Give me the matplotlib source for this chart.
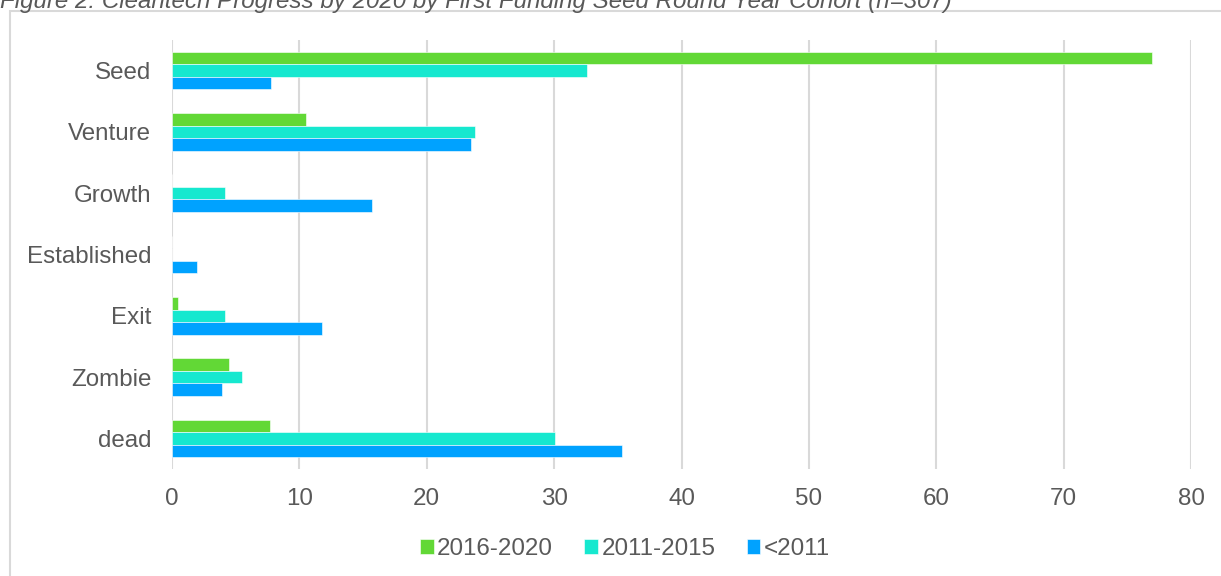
import matplotlib
matplotlib.use("Agg")
import matplotlib.pyplot as plt
from matplotlib.patches import Rectangle
import numpy as np

plt.rcParams['font.family'] = ['Liberation Sans', 'DejaVu Sans']

# data
stages = ["Seed", "Venture", "Growth", "Established", "Exit", "Zombie", "dead"]
cohorts = ["2016-2020", "2011-2015", "<2011"]
v_2016_2020 = [76.9, 10.5, 0.0, 0.0, 0.45, 4.5, 7.7]
v_2011_2015 = [32.6, 23.8, 4.2, 0.0, 4.2, 5.5, 30.1]
v_pre_2011 = [7.8, 23.5, 15.7, 2.0, 11.8, 3.9, 35.3]
colors = ["#62d836", "#16e8cf", "#00a2ff"]
x_ticks = [0, 10, 20, 30, 40, 50, 60, 70, 80]

W, H = 1221, 576
fs = 17.4
fig = plt.figure(figsize=(W / 100, H / 100), dpi=100)

# light frame around the chart (runs off right/bottom edges)
fig.patches.append(Rectangle((10 / W, -0.05), 1.2, 1 - 11 / H + 0.05,
                             transform=fig.transFigure, fill=False,
                             edgecolor="#d9d9d9", linewidth=1.5))

fig.text(0.0, 1 - 8 / H, "Figure 2: Cleantech Progress by 2020 by First Funding Seed Round Year Cohort (n=307)",
         fontsize=fs, style="italic", color="#595959", ha="left", va="baseline")

ax = fig.add_axes([172 / W, 1 - 469 / H, (1191 - 172) / W, (469 - 40) / H])

y = np.arange(len(stages))
h = 0.205
series = [v_2016_2020, v_2011_2015, v_pre_2011]
for i, (vals, lab, c) in enumerate(zip(series, cohorts, colors)):
    ax.barh(y + (i - 1) * h, vals, height=h, color=c, label=lab,
            edgecolor="white", linewidth=0.4, zorder=3)

ax.set_ylim(len(stages) - 0.5, -0.5)
ax.set_yticks(y)
ax.set_yticklabels(stages)
ax.set_xlim(0, 80)
ax.set_xticks(x_ticks)
ax.grid(axis="x", color="#d9d9d9", linewidth=1.5, zorder=0)
for s in ax.spines.values():
    s.set_visible(False)
ax.tick_params(axis="both", length=0, labelsize=fs, labelcolor="#595959")
ax.tick_params(axis="x", pad=14)
ax.tick_params(axis="y", pad=15)

leg = fig.legend(loc="center", bbox_to_anchor=(625 / W, 1 - 549 / H), ncol=3,
                 frameon=False, fontsize=fs, handlelength=0.55, handleheight=0.55,
                 handletextpad=0.15, columnspacing=1.3)
for t in leg.get_texts():
    t.set_color("#595959")

fig.savefig("out.png", dpi=100)
